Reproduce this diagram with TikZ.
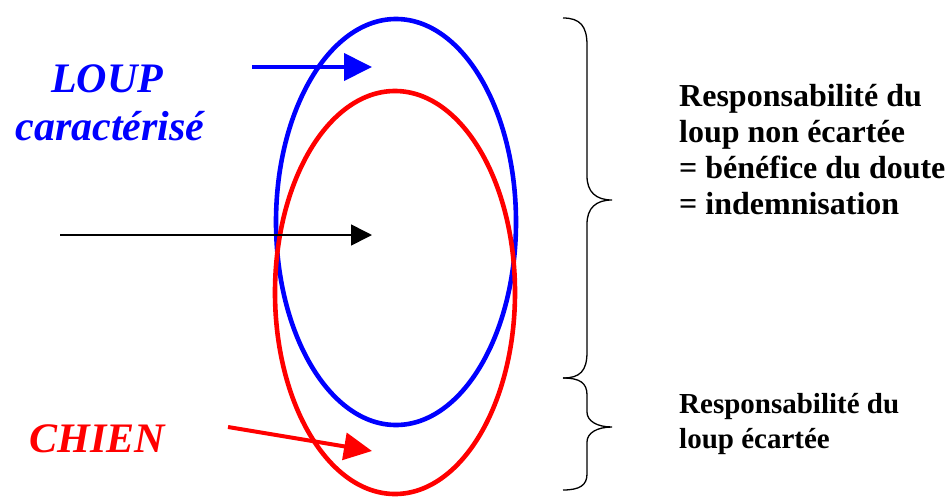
\documentclass[tikz,border=0pt]{standalone}
\usepackage{fontspec}
\setmainfont{Liberation Serif}
\usetikzlibrary{arrows.meta}
\definecolor{pblue}{RGB}{0,0,255}
\definecolor{pred}{RGB}{255,0,0}
\tikzset{
  ring/.style={line width=4.6pt},
  bigarrow/.style={line width=4pt,-{Triangle[length=28pt,width=27pt]}},
  thinarrow/.style={line width=1.6pt,-{Triangle[length=21pt,width=21pt]}},
  bracepath/.style={line width=1.3pt,black},
  lefttxt/.style={inner sep=0pt,anchor=base,font=\bfseries\itshape\fontsize{42}{48}\selectfont},
  righttxt/.style={inner sep=0pt,anchor=base west,font=\bfseries\fontsize{32}{36}\selectfont},
  righttxtsmall/.style={inner sep=0pt,anchor=base west,font=\bfseries\fontsize{29}{35}\selectfont},
}
\begin{document}
\begin{tikzpicture}[x=1pt,y=-1pt]
\useasboundingbox (0,0) rectangle (952,498);
% ellipses
\draw[ring,pblue] (396,222) ellipse [x radius=120, y radius=203];
\draw[ring,pred] (395,292.5) ellipse [x radius=120, y radius=201.5];
% labels
\node[lefttxt,text=pblue] (loup) at (107,92) {LOUP};
\node[lefttxt,text=pblue] (caract) at (110,140) {caractérisé};
\node[lefttxt,text=pred] (chien) at (97,452) {CHIEN};
% arrows
\coordinate (b0) at (252,67);
\coordinate (b1) at (372,67);
\coordinate (k0) at (60,235);
\coordinate (k1) at (372,235);
\coordinate (r0) at (228,427);
\coordinate (r1) at (372,451);
\draw[bigarrow,pblue] (b0) -- (b1);
\draw[thinarrow,black] (k0) -- (k1);
\draw[bigarrow,pred] (r0) -- (r1);
% braces
\draw[bracepath] (563,18) .. controls (580,18) and (587,26) .. (587,45)
  -- (587,176) .. controls (587,192) and (596,200) .. (612,200)
  .. controls (596,200) and (587,208) .. (587,224)
  -- (587,352) .. controls (587,371) and (580,378) .. (563,378);
\draw[bracepath] (563,378) .. controls (580,378) and (587,383) .. (587,395)
  -- (587,412) .. controls (587,421) and (597,427) .. (612,427)
  .. controls (597,427) and (587,433) .. (587,442)
  -- (587,474) .. controls (587,485) and (580,490) .. (563,490);
% right texts
\node[righttxt] (t1) at (679,106) {Responsabilité du};
\node[righttxt] (t2) at (679,142) {loup non écartée};
\node[righttxt] (t3) at (679,178) {= bénéfice du doute};
\node[righttxt] (t4) at (679,214) {= indemnisation};
\node[righttxtsmall] (s1) at (679,413) {Responsabilité du};
\node[righttxtsmall] (s2) at (679,448) {loup écartée};
\end{tikzpicture}
\end{document}
